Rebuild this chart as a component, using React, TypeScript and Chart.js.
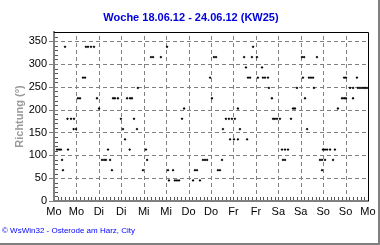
import React, { useEffect, useRef } from "react";
import { Chart, registerables } from "chart.js";

Chart.register(...registerables);

const titleText = "Woche 18.06.12 - 24.06.12 (KW25)";
const yAxisTitle = "Richtung (°)";
const footerText = "© WsWin32 - Osterode am Harz, City";
const dayLabels = ["Mo", "Mo", "Di", "Di", "Mi", "Mi", "Do", "Do", "Fr", "Fr", "Sa", "Sa", "So", "So", "Mo"];
const yTickValues = [0, 50, 100, 150, 200, 250, 300, 350];

// hours since Monday 00:00
const hours = [
  1.6, 2.7, 3.7, 4.3, 4.8, 5.9, 7.5, 7.2, 9.1, 10.7, 10.5, 11.8,
  12.8, 13.9, 15.5, 16.6, 17.1, 18.2, 19.8, 21.4, 23.0, 24.1,
  25.7, 26.8, 27.8, 28.9, 30.0, 31.0, 31.6, 32.6, 34.2, 35.8, 36.9, 38.0,
  39.1, 40.7, 41.7, 40.5, 42.8, 44.4, 44.9, 47.6,
  49.2, 49.8, 51.9, 53.0, 57.2, 60.5, 61.0, 61.5, 63.7, 64.7, 65.8, 66.9,
  68.5, 69.6, 74.4, 75.4, 76.5, 78.1, 79.7, 80.8, 81.9, 83.5, 84.5, 85.6,
  86.7, 87.7, 88.8, 89.9, 90.4, 92.0, 93.6, 95.2, 96.8, 94.2, 96.3, 98.4,
  98.4, 99.5, 101.7, 102.7, 103.3, 103.8, 104.9, 105.9, 106.5, 108.6, 109.1,
  111.3, 111.8, 112.9, 114.5, 115.0, 116.6, 117.2, 118.2, 119.3, 120.9,
  122.0, 122.5, 123.6, 123.6, 125.2, 126.8, 127.9, 128.9, 130.0, 132.7,
  133.8, 133.2, 134.3, 135.4, 136.4, 137.5, 138.6, 139.1, 140.7, 142.3,
  143.4, 145.0, 143.4, 143.9, 145.0, 146.1, 147.7, 149.3, 150.3, 151.9,
  154.1, 155.2, 156.2, 155.2, 156.2, 158.4, 160.0, 160.0, 162.1, 162.6,
  163.7, 164.8, 165.9, 166.9, 168.0,
];

// wind direction in degrees
const directions = [
  112.5, 112.5, 112.5, 90, 67.5, 337.5, 112.5, 180, 180, 180, 157.5, 157.5,
  225, 225, 270, 270, 337.5, 337.5, 337.5, 337.5, 225, 202.5,
  90, 90, 90, 112.5, 90, 67.5, 225, 225, 225, 180, 157.5, 135,
  225, 225, 225, 112.5, 180, 157.5, 247.5, 67.5,
  112.5, 90, 315, 315, 315, 337.5, 67.5, 45, 67.5, 45, 45, 45,
  180, 202.5, 45, 67.5, 67.5, 45, 90, 90, 90, 270, 225, 315,
  315, 67.5, 67.5, 90, 157.5, 180, 180, 180, 180, 135, 135, 135,
  202.5, 157.5, 315, 292.5, 135, 270, 270, 315, 337.5, 315, 270,
  292.5, 270, 270, 270, 247.5, 225, 180, 180, 180, 180,
  112.5, 90, 90, 112.5, 112.5, 180, 202.5, 202.5, 247.5, 315,
  315, 270, 225, 157.5, 270, 270, 270, 247.5, 315, 90,
  90, 90, 67.5, 112.5, 112.5, 112.5, 112.5, 90, 112.5, 202.5,
  225, 225, 225, 270, 270, 247.5, 247.5, 225, 270, 247.5,
  247.5, 247.5, 247.5, 247.5, 247.5,
];

const gridPlugin = {
  id: "dashGrid",
  beforeDatasetsDraw(chart: any) {
    const ctx = chart.ctx;
    const a = chart.chartArea;
    const xs = chart.scales.x;
    const ys = chart.scales.y;
    ctx.save();
    ctx.strokeStyle = "#808080";
    ctx.lineWidth = 1;
    ctx.setLineDash([4, 3]);
    ctx.beginPath();
    for (let h = 12; h < 168; h += 12) {
      const px = Math.round(xs.getPixelForValue(h)) + 0.5;
      ctx.moveTo(px, a.bottom);
      ctx.lineTo(px, a.top);
    }
    for (const v of yTickValues) {
      if (v === 0) continue;
      const py = Math.round(ys.getPixelForValue(v)) + 0.5;
      ctx.moveTo(a.left, py);
      ctx.lineTo(a.right, py);
    }
    ctx.stroke();
    ctx.restore();
  },
};

const decorPlugin = {
  id: "decor",
  afterDraw(chart: any) {
    const ctx = chart.ctx;
    const a = chart.chartArea;
    const xs = chart.scales.x;
    const ys = chart.scales.y;
    ctx.save();
    ctx.lineWidth = 1;
    // major y ticks (outside)
    ctx.strokeStyle = "#808080";
    ctx.beginPath();
    for (const v of yTickValues) {
      const py = Math.round(ys.getPixelForValue(v)) + 0.5;
      ctx.moveTo(a.left - 5, py);
      ctx.lineTo(a.left, py);
    }
    ctx.stroke();
    // minor ticks
    ctx.strokeStyle = "#555555";
    ctx.beginPath();
    for (let h = 2; h < 168; h += 2) {
      const px = Math.round(xs.getPixelForValue(h)) + 0.5;
      ctx.moveTo(px, a.bottom - 1);
      ctx.lineTo(px, a.bottom - 4);
    }
    for (let v = 10; v < 370; v += 10) {
      if (v % 50 === 0) continue;
      const py = Math.round(ys.getPixelForValue(v)) + 0.5;
      ctx.moveTo(a.left + 1, py);
      ctx.lineTo(a.left + 4, py);
    }
    ctx.stroke();
    // top and right border
    ctx.strokeStyle = "#000000";
    ctx.beginPath();
    ctx.moveTo(a.left, Math.round(a.top) + 0.5);
    ctx.lineTo(Math.round(a.right) + 0.5, Math.round(a.top) + 0.5);
    ctx.lineTo(Math.round(a.right) + 0.5, a.bottom);
    ctx.stroke();
    // title
    ctx.fillStyle = "#0000dd";
    ctx.font = "bold 11px 'Liberation Sans', Arial, sans-serif";
    ctx.textAlign = "center";
    ctx.textBaseline = "middle";
    ctx.fillText(titleText, 191, 18);
    // footer
    ctx.fillStyle = "#0000ff";
    ctx.font = "8px 'Liberation Sans', Arial, sans-serif";
    ctx.textAlign = "left";
    ctx.fillText(footerText, 2, 231);
    // outer frame (right/bottom)
    ctx.fillStyle = "#808080";
    ctx.fillRect(378, 0, 2, 245);
    ctx.fillRect(0, 243, 380, 2);
    ctx.restore();
  },
};

export default function App() {
  const ref = useRef<HTMLCanvasElement | null>(null);
  useEffect(() => {
    if (!ref.current) return;
    const points = hours.map((h, i) => ({ x: h, y: directions[i] }));
    const chart = new Chart(ref.current, {
      type: "scatter",
      data: {
        datasets: [
          {
            data: points,
            pointStyle: "rectRot",
            pointRadius: 1.4,
            pointBorderWidth: 0,
            backgroundColor: "#000000",
            borderColor: "#000000",
          },
        ],
      },
      options: {
        animation: false,
        responsive: false,
        devicePixelRatio: 1,
        layout: { padding: { top: 32, right: 12, left: 0, bottom: 0 } },
        plugins: {
          legend: { display: false },
          tooltip: { enabled: false },
          title: { display: false },
        },
        scales: {
          x: {
            type: "linear",
            min: 0,
            max: 168,
            afterFit: (s: any) => {
              s.height = 44;
            },
            afterBuildTicks: (s: any) => {
              s.ticks = dayLabels.map((_, i) => ({ value: i * 12 }));
            },
            ticks: {
              autoSkip: false,
              maxRotation: 0,
              padding: 4,
              color: "#000000",
              font: { family: "'Liberation Sans', Arial, sans-serif", size: 11 },
              callback: (v: any) => dayLabels[Math.round(Number(v) / 12)] ?? "",
            },
            grid: { display: false, drawTicks: false },
            border: { display: true, color: "#808080", width: 2 },
          },
          y: {
            type: "linear",
            min: 0,
            max: 370,
            afterFit: (s: any) => {
              s.width = 54;
            },
            afterBuildTicks: (s: any) => {
              s.ticks = yTickValues.map((v) => ({ value: v }));
            },
            ticks: {
              padding: 7,
              color: "#000000",
              font: { family: "'Liberation Sans', Arial, sans-serif", size: 11 },
            },
            grid: { display: false, drawTicks: false },
            border: { display: true, color: "#808080", width: 2 },
            title: {
              display: true,
              text: yAxisTitle,
              color: "#999999",
              font: { family: "'Liberation Sans', Arial, sans-serif", size: 11, weight: "bold" },
              padding: { top: 13, bottom: 0 },
            },
          },
        },
      },
      plugins: [gridPlugin, decorPlugin],
    } as any);
    return () => chart.destroy();
  }, []);
  return (
    <div style={{ position: "fixed", left: 0, top: 0, width: 380, height: 245, background: "#ffffff" }}>
      <canvas ref={ref} width={380} height={245} style={{ width: 380, height: 245, display: "block" }} />
    </div>
  );
}
